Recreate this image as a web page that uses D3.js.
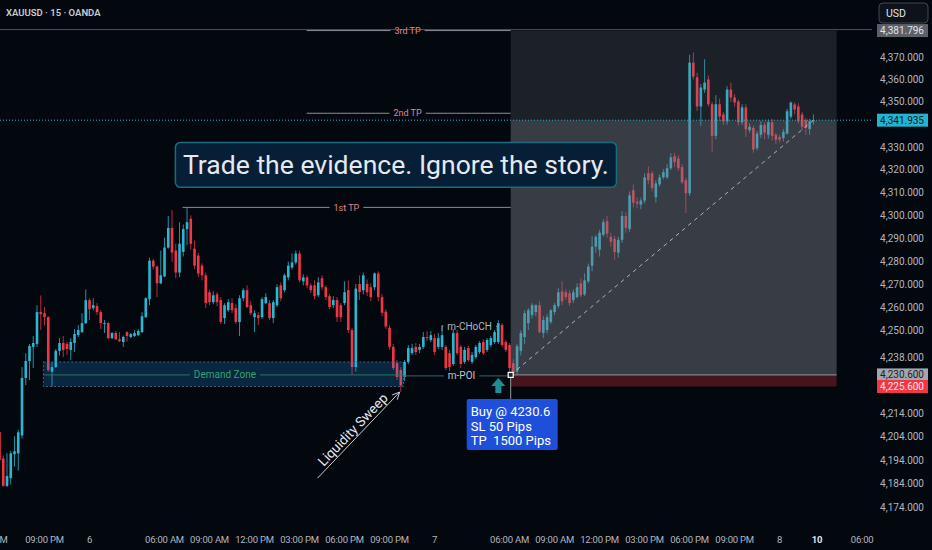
<!DOCTYPE html>
<html>
<head>
<meta charset="utf-8">
<script src="https://cdn.jsdelivr.net/npm/d3@7"></script>
<style>
  body { margin: 0; background: #03080f; }
  svg { display: block; font-family: Roboto, "Liberation Sans", sans-serif; }
</style>
</head>
<body>
<svg id="chart" width="932" height="550"></svg>
<script>
// 15 min XAUUSD bars, [open, high, low, close], one array per session day
const lateDay5 = [
  [4206,4207,4192,4194],[4194.7,4196,4182.7,4183],[4183,4196.9,4182.5,4187.2],[4186.3,4198,4183.5,4196.9],
  [4196.5,4204.2,4191.3,4197.8],[4196.9,4207,4189.5,4205.9],[4204.6,4234,4203.3,4229.3],[4229.3,4240,4226.2,4236.6],
  [4236.6,4244,4228.4,4243.1],[4242.7,4247.4,4233.6,4244.4],[4244,4260.8,4242.7,4257.8],[4257.8,4265,4250,4256.9],
  [4257.3,4260,4252,4255.6],[4255.6,4256,4231.9,4232.7],[4232,4236,4225.6,4234],[4234,4241.8,4233.6,4241],
  [4241,4246.5,4239,4244.4],[4244.4,4247.4,4238.3,4241.4],[4244,4244.8,4239.2,4241.8],[4241.4,4246.5,4237,4244.8],
  [4244.4,4250.4,4240.5,4248.3],[4247.8,4252.2,4247,4250],[4249.1,4257.3,4248.7,4253],[4253,4267.6,4252.6,4263]
];
const day6 = [
  [4263,4263.8,4254.3,4259],[4259.5,4263.8,4258.6,4260.8],[4260.4,4261.7,4256.5,4257.8],[4257.8,4258.6,4250.4,4253],
  [4252.6,4254.3,4248.7,4253],[4253,4253.5,4246,4246.5],[4246.5,4249.1,4246,4248.7],[4248.7,4249.6,4245.7,4246],
  [4246,4249.1,4244.8,4245.2],[4244.8,4247.6,4242.7,4247],[4249.1,4249.5,4245,4247.4],[4247,4248.7,4246.5,4248.3],
  [4247.4,4250,4247,4248.7],[4247.8,4250.4,4247.4,4249.6],[4249.1,4257.8,4248.7,4256],[4255.6,4264.3,4255.2,4263.8],
  [4263.4,4281.5,4260.8,4280.2],[4280.2,4281,4276.3,4277.6],[4277.6,4278,4264.3,4270.3],[4270.3,4284.6,4269.9,4273.8],
  [4273.3,4290.2,4272.9,4285.9],[4285.9,4299.7,4285.4,4294.5],[4294.5,4302.3,4279.7,4283.7],[4284.6,4287.6,4272.5,4275],
  [4275,4297,4273,4287.6],[4284,4296,4282,4294],[4294,4303.5,4287,4297],[4298.5,4300,4285,4287.5],
  [4285.4,4289,4276.5,4278],[4282.4,4283.5,4273,4274.6],[4278,4279,4271.6,4273.8],[4273.8,4275,4259.5,4261.7],
  [4266.4,4267.5,4260.8,4262.1],[4262.1,4266.8,4261.2,4265.1],[4265.5,4266.4,4260.4,4262.1],[4263,4264.3,4252.6,4253.5],
  [4255.2,4261.7,4252.6,4260.8],[4258.6,4263.4,4257.8,4262.1],[4261.7,4263.8,4257.3,4258.6],[4259.5,4261.2,4252.6,4253.5],
  [4253.5,4265.1,4247.4,4263.8],[4263.8,4268.2,4262.5,4267.3],[4267.3,4269.4,4259.5,4260],[4260.8,4262.5,4256.5,4257.3],
  [4255.6,4258.6,4249.1,4257.3],[4256.5,4257.8,4252.2,4255.2],[4255.6,4264.3,4254.8,4263.4],[4261.7,4266,4261.2,4264.3],
  [4261.7,4263,4254.3,4255.2],[4255.2,4263,4253,4262.1],[4260.8,4269.9,4260,4268.6],[4269.4,4270.7,4262.5,4263.8],
  [4267.3,4274.6,4266.4,4273.8],[4272.9,4279.8,4271.6,4278],[4277.2,4283.3,4276.3,4279.4],[4279.4,4284.6,4278.5,4283.3],
  [4283.3,4284.6,4270.7,4271.6],[4271.2,4274.2,4269.4,4272.9],[4272.9,4273.8,4268.2,4269.4],[4269.4,4270.3,4266,4267.3],
  [4269.4,4271.6,4263.4,4264.7],[4265.1,4273,4264.3,4270.7],[4272.5,4273.8,4267.3,4268.6],[4268.6,4269.4,4263,4264.3],
  [4264.7,4265.5,4259.1,4260],[4260.8,4264.7,4259.5,4263],[4263,4264.3,4253.5,4255.6],[4260.8,4261.7,4253.5,4255.6],
  [4261.7,4271.2,4260.8,4266.4],[4267.3,4271.6,4248.7,4250],[4250,4251,4230.6,4234],[4234,4270,4232,4268],
  [4270,4273.8,4263,4266.5],[4267.3,4275,4265.5,4273.8],[4270,4272,4264.7,4266.4],[4268.6,4270.3,4262.5,4264.3],
  [4268.6,4275,4267.3,4274.6],[4274.6,4275.5,4262.5,4264.3],[4264.3,4265.5,4256,4257.5],[4258,4259,4250.5,4251.5],
  [4251,4252.2,4241.4,4242.7],[4242.7,4244,4232.7,4233.6],[4235.7,4237,4228.4,4229.7],[4232.7,4234,4223.2,4226],
  [4229.7,4237,4228,4236.2],[4236.2,4243.5,4235.3,4242.2],[4240,4244,4239.2,4242.2],[4242.7,4244.4,4239.2,4240.5],
  [4241.4,4244,4240,4242.7],[4242.7,4249.1,4241.8,4247],[4247,4249.5,4245.2,4246.5],[4245.7,4249.5,4244.8,4247.8]
];
const day7 = [
  [4246.5,4248.3,4239.2,4240.5],[4242.7,4248.7,4241.8,4246.5],[4242.7,4252.2,4241.4,4247.8],[4242.7,4243.5,4232.7,4233.6],
  [4240,4241.4,4232.2,4234],[4235.3,4250.4,4234.5,4248.7],[4248.7,4250,4239.2,4240],[4242.7,4243.5,4233.6,4235.3],
  [4236.2,4242.7,4235.3,4241.4],[4242.2,4243.1,4236.2,4237],[4236.2,4240.5,4235.3,4239.2],[4238.3,4243.5,4237.4,4242.7],
  [4240.5,4245.2,4239.6,4244.4],[4244.8,4246,4239.2,4240],[4241.4,4246.5,4240.5,4245.7],[4243.5,4247.4,4242.7,4246.5],
  [4244.8,4250,4244,4249.1],[4244.8,4254.3,4244,4253],[4252.2,4253,4242.7,4243.5],[4244.8,4245.7,4240.5,4241.4],
  [4243.5,4244.4,4230.6,4233.6],[4235.7,4237.4,4229.7,4231.4],[4232,4244,4230.6,4243],[4241,4250,4239,4248.7],
  [4247,4258.6,4244,4257.3],[4253,4259.5,4250,4258.6],[4256.5,4261.7,4255,4260.8],[4257.8,4261.2,4256,4260.8],
  [4260.8,4262.5,4248.7,4249.1],[4248.7,4256,4246.5,4254.3],[4250,4256.9,4248.5,4255.6],[4253.5,4259.1,4252.6,4258.6],
  [4257.8,4261.7,4256.5,4260.8],[4260.4,4268.2,4259.5,4266.4],[4266.8,4271.2,4260.8,4262.5],[4266.4,4267.7,4263,4264.3],
  [4266,4267.3,4260.4,4261.7],[4263,4267.7,4261.7,4266.4],[4264.3,4270.3,4263.8,4268.6],[4270.3,4272.5,4264.3,4265.1],
  [4265.5,4274.6,4264.7,4271.6],[4271.2,4278.9,4270.3,4277.6],[4278,4291,4275.5,4286.3],[4286.3,4291.5,4283.7,4290.6],
  [4285,4293.7,4282,4292.4],[4291.5,4298.4,4290.6,4297],[4297.5,4299.7,4290.2,4292],[4290.6,4292.4,4286.3,4288.5],
  [4289.7,4291,4280.6,4284],[4283.7,4290.6,4281.5,4289.3],[4289.3,4301.9,4288,4299.7],[4299.7,4301.4,4292.4,4294.5],
  [4294,4310.5,4292.8,4308.8],[4311,4313.5,4303.5,4305.6],[4306,4308,4303,4305.2],[4304.7,4307.8,4302.7,4306.5],
  [4306.5,4318.5,4305.2,4316.7],[4318.5,4321.6,4313.6,4315.4],[4318.5,4319.4,4310.5,4312],[4308,4315.4,4305.6,4314],
  [4313.6,4318,4312.6,4316.7],[4316.7,4320.3,4315.8,4319],[4316.7,4322.5,4316,4320.7],[4320.7,4327.3,4319.9,4325.5],
  [4326,4327.5,4321.2,4323.4],[4325,4326.5,4319.5,4320.7],[4321.2,4322.5,4313.8,4314.5],[4315.4,4316.6,4301,4309.7],
  [4309.7,4371,4308.5,4367.5],[4367.5,4372,4360,4361.3],[4361,4363,4346,4348],[4348,4358,4339.4,4356.4],
  [4355.5,4369,4354,4358.6],[4360,4361.7,4348,4349],[4349,4350,4328,4335],[4335,4353,4333.5,4349],
  [4349,4351.5,4341.5,4343.5],[4344.5,4345.5,4339.8,4341.4],[4341.4,4357,4340,4355.5],[4355.5,4358.6,4350,4352],
  [4352,4353.5,4348,4349.8],[4350.2,4351,4339.4,4341],[4341,4349,4339.8,4347.6],[4347.6,4349,4334.5,4337.9],
  [4337.5,4340.5,4336.4,4339],[4338.5,4339.5,4327.5,4329],[4329.5,4337.2,4328.5,4336],[4335.5,4341.5,4334,4339.8],
  [4339.8,4341,4333.5,4336.4],[4335.5,4342.2,4333.8,4341],[4341,4342.5,4333,4335],[4335.5,4336.4,4331.5,4333.3]
];
const day8 = [
  [4334.5,4335.5,4332,4333.3],[4334,4338,4332.5,4336.8],[4336,4347,4335.5,4345.9],[4343.5,4350.2,4342.5,4349.8],
  [4348.9,4349.8,4344.5,4346.7],[4348,4349.4,4340.5,4341.5],[4344.5,4345.5,4337.5,4339],[4342,4343,4335.5,4338.5],
  [4338,4342.5,4335.5,4341.4],[4341.4,4344.5,4340,4341.935]
];

// axis labels (bar index -> text)
const timeTicks = [
  [-3, "06:00 PM"], [12, "09:00 PM"], [24, "6"], [44, "06:00 AM"], [56, "09:00 AM"], [68, "12:00 PM"],
  [80, "03:00 PM"], [92, "06:00 PM"], [104, "09:00 PM"], [116, "7"], [136, "06:00 AM"], [148, "09:00 AM"],
  [160, "12:00 PM"], [172, "03:00 PM"], [184, "06:00 PM"], [196, "09:00 PM"], [208, "8"], [218, "10"], [230, "06:00"]
];
const priceTicks = [4370, 4360, 4350, 4330, 4320, 4310, 4300, 4290, 4280, 4270, 4260, 4250, 4238, 4214, 4204, 4194, 4184, 4174];

// trade setup
const lastPrice = 4341.935;
const entryPrice = 4230.6;
const stopPrice = 4225.6;
const targetPrice = 4381.796;
const entryIdx = 136.3;
const boxEndIdx = 223.2;
const takeProfits = [
  { label: "1st TP", price: 4303.5, from: 48.8, textAt: 92.5 },
  { label: "2nd TP", price: 4345, from: 81.9, textAt: 108.8 },
  { label: "3rd TP", price: targetPrice, from: 81.9, textAt: 108.8 }
];
const demandZone = { from: 11.7, to: 107.7, top: 4236.2, bottom: stopPrice, mid: entryPrice };

const bars = [...lateDay5, ...day6, ...day7, ...day8].map((d, i) => ({ i, o: d[0], h: d[1], l: d[2], c: d[3] }));

const W = 932, H = 550, plotW = 872, plotH = 528;
const x = d3.scaleLinear().domain([0, 232.5]).range([-0.5, plotW - 0.5]);
const y = d3.scaleLog().domain([4174, 4370]).range([507, 57]);

const svg = d3.select("#chart");
svg.append("rect").attr("width", W).attr("height", H).attr("fill", "#03080f");
svg.append("clipPath").attr("id", "clip").append("rect").attr("width", plotW).attr("height", plotH);
const plot = svg.append("g").attr("clip-path", "url(#clip)");

const upCol = "#2bb7d1", downCol = "#f23645";

// candles
const candle = plot.append("g").selectAll("g").data(bars).join("g");
candle.append("rect")
  .attr("x", d => x(d.i) - 0.5)
  .attr("y", d => y(d.h))
  .attr("width", 1)
  .attr("height", d => Math.max(1, y(d.l) - y(d.h)))
  .attr("fill", d => d.c >= d.o ? "#2290a6" : "#b82b3a");
candle.append("rect")
  .attr("x", d => x(d.i) - 1.3)
  .attr("y", d => y(Math.max(d.o, d.c)))
  .attr("width", 2.6)
  .attr("height", d => Math.max(1, Math.abs(y(d.o) - y(d.c))))
  .attr("fill", d => d.c >= d.o ? upCol : downCol);

// demand zone
plot.append("rect")
  .attr("x", x(demandZone.from)).attr("y", y(demandZone.top))
  .attr("width", x(demandZone.to) - x(demandZone.from))
  .attr("height", y(demandZone.bottom) - y(demandZone.top))
  .attr("fill", "#2196f3").attr("fill-opacity", 0.22)
  .attr("stroke", "#56748a").attr("stroke-width", 0.8).attr("stroke-dasharray", "2,2");

// position tool
const ex = x(entryIdx), bx = x(boxEndIdx);
plot.append("rect").attr("x", ex).attr("y", y(targetPrice)).attr("width", bx - ex)
  .attr("height", y(lastPrice) - y(targetPrice)).attr("fill", "#787b86").attr("fill-opacity", 0.22);
plot.append("rect").attr("x", ex).attr("y", y(lastPrice)).attr("width", bx - ex)
  .attr("height", y(entryPrice) - y(lastPrice)).attr("fill", "#787b86").attr("fill-opacity", 0.46);
plot.append("rect").attr("x", ex).attr("y", y(entryPrice)).attr("width", bx - ex)
  .attr("height", y(stopPrice) - y(entryPrice)).attr("fill", downCol).attr("fill-opacity", 0.28);
plot.append("line").attr("x1", ex).attr("x2", bx).attr("y1", y(entryPrice)).attr("y2", y(entryPrice))
  .attr("stroke", "#9598a1").attr("stroke-width", 1);

// target level line across the chart
plot.append("line").attr("x1", 0).attr("x2", plotW).attr("y1", y(targetPrice) - 1).attr("y2", y(targetPrice) - 1)
  .attr("stroke", "#8f3443").attr("stroke-width", 1);

// last price dotted line
plot.append("line").attr("x1", 0).attr("x2", plotW).attr("y1", y(lastPrice)).attr("y2", y(lastPrice))
  .attr("stroke", "#22b5cf").attr("stroke-width", 1).attr("stroke-dasharray", "1,2");

// trend dashed line from entry to last bar
plot.append("line").attr("x1", ex).attr("y1", y(entryPrice))
  .attr("x2", x(bars.length - 1)).attr("y2", y(lastPrice))
  .attr("stroke", "#c4c7ce").attr("stroke-width", 1).attr("stroke-dasharray", "4,4").attr("opacity", 0.85);

// line with a label sitting in a gap
function labeledLine(x1, x2, yy, text, cx, lineCol, textCol, size) {
  const t = plot.append("text").attr("x", cx).attr("y", yy).attr("dy", "0.35em")
    .attr("text-anchor", "middle").attr("font-size", size).attr("fill", textCol).text(text);
  const half = t.node().getComputedTextLength() / 2 + 4;
  plot.append("line").attr("x1", x1).attr("x2", cx - half).attr("y1", yy).attr("y2", yy)
    .attr("stroke", lineCol).attr("stroke-width", 1);
  plot.append("line").attr("x1", cx + half).attr("x2", x2).attr("y1", yy).attr("y2", yy)
    .attr("stroke", lineCol).attr("stroke-width", 1);
}

takeProfits.forEach(tp => labeledLine(x(tp.from), ex, y(tp.price), tp.label, x(tp.textAt), "#8a8d96", "#e0848c", 9));
labeledLine(x(demandZone.from), x(demandZone.to), y(demandZone.mid), "Demand Zone", x(60.1), "#2a7a56", "#35a26f", 10);
labeledLine(x(demandZone.to), ex, y(entryPrice) + 1, "m-POI", x(123.2), "#3e5f6b", "#c3c6ce", 10);

// m-CHoCH bracket
const chY = y(4251.7), chX1 = x(118), chX2 = x(132.7);
labeledLine(chX1, chX2, chY, "m-CHoCH", (chX1 + chX2) / 2, "#8a8d96", "#b2b5be", 10);
plot.append("line").attr("x1", chX1).attr("x2", chX1).attr("y1", chY).attr("y2", chY + 5).attr("stroke", "#8a8d96");
plot.append("line").attr("x1", chX2).attr("x2", chX2).attr("y1", chY).attr("y2", chY + 5).attr("stroke", "#8a8d96");

// up arrow under the entry
const ax = x(133), ay = y(entryPrice) + 3;
plot.append("path")
  .attr("d", `M${ax},${ay} L${ax + 7},${ay + 8} L${ax + 3},${ay + 8} L${ax + 3},${ay + 15} L${ax - 3},${ay + 15} L${ax - 3},${ay + 8} L${ax - 7},${ay + 8} Z`)
  .attr("fill", "#1e8e99");

// entry marker and label
plot.append("line").attr("x1", ex).attr("x2", ex).attr("y1", y(entryPrice)).attr("y2", y(entryPrice) + 24)
  .attr("stroke", "#9598a1");
plot.append("rect").attr("x", ex - 2.5).attr("y", y(entryPrice) - 2.5).attr("width", 5).attr("height", 5)
  .attr("fill", "#20252e").attr("stroke", "#ffffff").attr("stroke-width", 1.2);
const buy = plot.append("g").attr("transform", `translate(${ex - 44},${y(entryPrice) + 24})`);
buy.append("rect").attr("width", 91).attr("height", 51).attr("rx", 2).attr("fill", "#1f4fda");
["Buy @ 4230.6", "SL 50 Pips", "TP  1500 Pips"].forEach((s, k) => {
  buy.append("text").attr("x", 4).attr("y", 13 + k * 14.5).attr("dy", "0.35em")
    .attr("font-size", 13).attr("fill", "#ffffff").attr("xml:space", "preserve").text(s);
});

// liquidity sweep arrow
const lx1 = x(84.8), ly1 = y(4186.3), lx2 = x(106.7), ly2 = y(4223.2);
plot.append("line").attr("x1", lx1).attr("y1", ly1).attr("x2", lx2).attr("y2", ly2)
  .attr("stroke", "#c8cbd2").attr("stroke-width", 1);
const ang = Math.atan2(ly2 - ly1, lx2 - lx1);
[-0.45, 0.45].forEach(a => {
  plot.append("line").attr("x1", lx2).attr("y1", ly2)
    .attr("x2", lx2 - 8 * Math.cos(ang + a)).attr("y2", ly2 - 8 * Math.sin(ang + a))
    .attr("stroke", "#c8cbd2").attr("stroke-width", 1);
});
const nx = Math.sin(ang) * 8, ny = -Math.cos(ang) * 8;
plot.append("text")
  .attr("transform", `translate(${(lx1 + lx2) / 2 + nx},${(ly1 + ly2) / 2 + ny}) rotate(${ang * 180 / Math.PI})`)
  .attr("text-anchor", "middle").attr("dy", "0.35em").attr("font-size", 13.5).attr("fill", "#e6e9ef")
  .text("Liquidity Sweep");

// quote box
const qx1 = x(46.9), qx2 = x(164.5), qy1 = y(4332.1), qy2 = y(4312.3);
svg.append("rect").attr("x", qx1).attr("y", qy1).attr("width", qx2 - qx1).attr("height", qy2 - qy1)
  .attr("rx", 5).attr("fill", "#061f37").attr("stroke", "#1b6b7c").attr("stroke-width", 1.5);
const quote = svg.append("text").attr("x", (qx1 + qx2) / 2).attr("y", (qy1 + qy2) / 2).attr("dy", "0.36em")
  .attr("text-anchor", "middle").attr("font-size", 30).attr("fill", "#e6e9ef")
  .text("Trade the evidence. Ignore the story.");
const qLen = quote.node().getComputedTextLength();
quote.attr("font-size", 30 * 426 / qLen);

// header
svg.append("text").attr("x", 6).attr("y", 13).attr("dy", "0.35em").attr("font-size", 9.5)
  .attr("font-weight", 600).attr("fill", "#c8cbd2").text("XAUUSD · 15 · OANDA");

// price axis
svg.append("g").selectAll("text").data(priceTicks).join("text")
  .attr("x", 924).attr("y", d => y(d)).attr("dy", "0.35em").attr("text-anchor", "end")
  .attr("font-size", 10).attr("fill", "#b2b5be").text(d => d3.format(",.3f")(d));

const badges = [
  { price: targetPrice, bg: "#5d6069", fg: "#e0e3eb" },
  { price: lastPrice, bg: "#22b5cf", fg: "#0b1a24" },
  { price: entryPrice, bg: "#a3a6af", fg: "#1a1e27" },
  { price: stopPrice, bg: "#f23645", fg: "#ffe6e8" }
];
const badge = svg.append("g").selectAll("g").data(badges).join("g")
  .attr("transform", d => `translate(877,${y(d.price)})`);
badge.append("rect").attr("y", -6.5).attr("width", 51).attr("height", 13).attr("fill", d => d.bg);
badge.append("text").attr("x", 47).attr("dy", "0.35em").attr("text-anchor", "end")
  .attr("font-size", 10).attr("fill", d => d.fg).text(d => d3.format(",.3f")(d.price));

// currency button
svg.append("rect").attr("x", 879).attr("y", 3).attr("width", 49).attr("height", 20).attr("rx", 4)
  .attr("fill", "#0d121b").attr("stroke", "#434651");
svg.append("text").attr("x", 886).attr("y", 13).attr("dy", "0.35em").attr("font-size", 10.5)
  .attr("fill", "#e0e3eb").text("USD");

// time axis
svg.append("g").selectAll("text").data(timeTicks).join("text")
  .attr("x", d => x(d[0])).attr("y", 540).attr("dy", "0.35em").attr("text-anchor", "middle")
  .attr("font-size", 9.5).attr("letter-spacing", -0.2)
  .attr("font-weight", d => d[1] === "10" ? "bold" : "normal")
  .attr("fill", d => d[1] === "10" ? "#e0e3eb" : "#b2b5be")
  .text(d => d[1]);
</script>
</body>
</html>
